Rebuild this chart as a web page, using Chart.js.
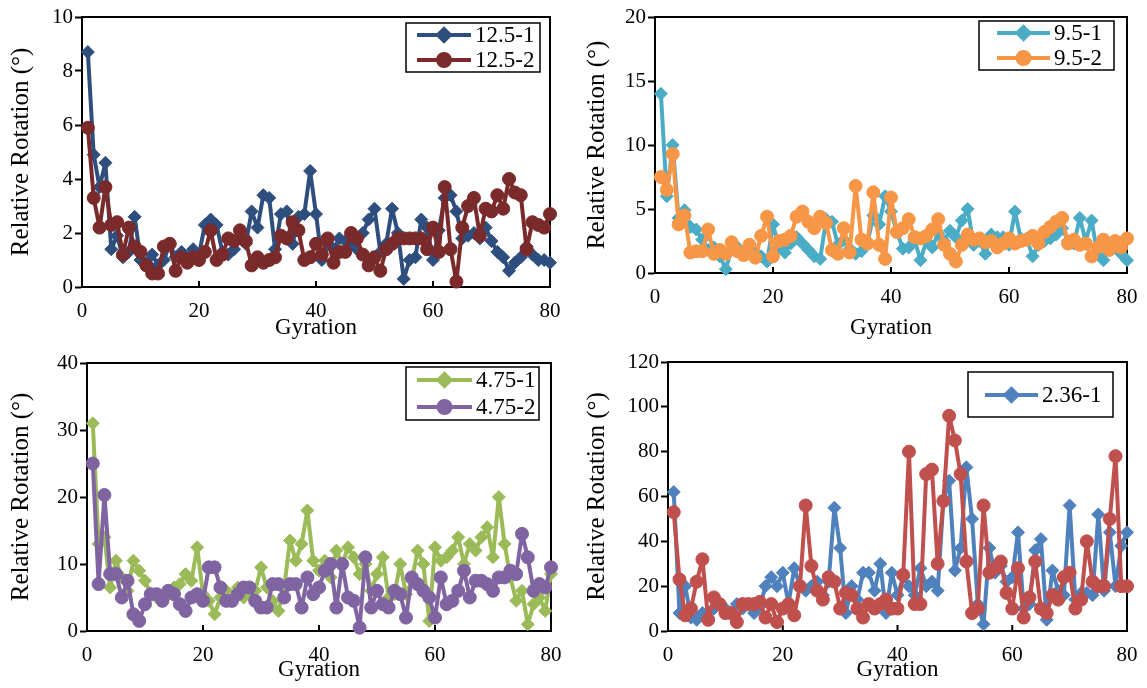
<!DOCTYPE html>
<html>
<head>
<meta charset="utf-8">
<script src="https://cdn.jsdelivr.net/npm/chart.js@4.4.0/dist/chart.umd.min.js"></script>
<style>
  body { margin: 0; background: #fff; }
  .panel { position: absolute; height: 344px; }
</style>
</head>
<body>
<div class="panel" style="left:0;top:0;width:573px"><canvas id="c1"></canvas></div>
<div class="panel" style="left:573px;top:0;width:574px"><canvas id="c2"></canvas></div>
<div class="panel" style="left:0;top:344px;width:573px"><canvas id="c3"></canvas></div>
<div class="panel" style="left:573px;top:344px;width:574px"><canvas id="c4"></canvas></div>
<script>
// gyration number (x)
const gyration = [1,2,3,4,5,6,7,8,9,10,11,12,13,14,15,16,17,18,19,20,
  21,22,23,24,25,26,27,28,29,30,31,32,33,34,35,36,37,38,39,40,
  41,42,43,44,45,46,47,48,49,50,51,52,53,54,55,56,57,58,59,60,
  61,62,63,64,65,66,67,68,69,70,71,72,73,74,75,76,77,78,79,80];
const xTicks = [0, 20, 40, 60, 80];

// relative rotation (deg)
const s12_5_1 = [8.7,4.9,3.7,4.6,1.4,1.9,1.1,1.3,2.6,1.0,0.9,1.2,0.8,1.0,1.6,1.1,1.3,1.1,1.4,1.2,
  2.3,2.5,2.3,1.3,1.2,1.4,1.8,1.6,2.8,2.2,3.4,3.3,1.4,2.7,2.8,1.6,2.6,2.7,4.3,2.7,
  1.0,1.6,1.4,1.8,1.7,1.6,1.4,2.0,2.5,2.9,1.3,1.6,2.9,2.0,0.3,1.0,1.1,2.5,2.2,1.0,
  2.1,3.3,3.4,2.8,1.8,1.9,2.0,1.8,2.2,1.7,1.3,1.1,0.6,0.9,1.1,1.5,1.2,1.0,1.0,0.9];
const s12_5_2 = [5.9,3.3,2.2,3.7,2.3,2.4,1.2,2.2,1.5,1.3,0.8,0.5,0.5,1.5,1.6,0.6,1.1,0.9,1.1,1.0,
  1.3,2.1,1.0,1.2,1.8,1.7,2.1,1.7,0.8,1.1,0.9,1.0,1.1,1.9,1.8,2.4,2.1,1.0,1.1,1.6,
  1.2,1.8,0.9,1.3,1.3,2.0,1.8,1.2,0.8,1.1,0.6,1.4,1.6,1.8,1.8,1.8,1.8,1.8,1.4,2.2,
  1.3,3.7,1.4,0.2,2.2,3.0,3.3,1.9,2.9,2.8,3.4,2.9,4.0,3.5,3.4,1.4,2.4,2.3,2.2,2.7];

const s9_5_1 = [14.0,6.0,10.0,4.3,4.9,3.6,3.4,2.6,1.8,2.0,1.3,0.3,1.9,2.0,1.5,1.9,1.6,1.3,0.9,3.8,
  2.0,1.6,2.3,2.8,2.3,1.8,1.3,1.1,4.2,4.0,2.2,2.6,1.9,1.5,1.7,2.3,4.5,3.8,6.0,4.8,
  3.2,1.9,2.0,2.6,1.0,2.5,2.0,3.1,2.5,3.3,2.8,4.1,5.0,2.2,2.5,1.5,3.0,2.8,2.8,2.2,
  4.8,2.7,2.7,1.3,2.2,2.5,2.7,3.0,3.5,2.5,2.3,4.3,2.5,4.1,1.5,1.0,2.0,2.5,1.5,1.0];
const s9_5_2 = [7.5,6.5,9.3,3.8,4.5,1.6,1.7,1.7,3.4,1.5,1.8,1.5,2.4,1.7,1.4,2.2,1.2,2.9,4.4,1.3,
  2.5,2.6,2.9,4.4,4.8,4.0,3.5,4.4,3.9,1.8,1.5,3.5,1.6,6.8,2.6,2.3,6.3,2.2,1.1,5.9,
  3.2,3.5,4.2,2.8,2.7,2.9,3.4,4.2,2.2,1.5,0.9,2.2,3.0,2.6,2.7,2.4,2.5,2.0,2.3,2.7,
  2.3,2.5,2.6,2.9,2.3,3.2,3.6,4.0,4.3,2.3,2.6,2.2,2.3,1.3,2.0,2.6,1.8,2.5,2.0,2.7];

const s4_75_1 = [31,13,14,6.5,10.5,8,6,10.5,9,7.5,5.5,5,4.5,5.5,6.5,7,8.5,7.5,12.5,5.5,
  4.5,2.5,5,6,4.5,6.5,5,5.5,6,9.5,6.5,4.5,3,6.5,13.5,10.5,13,18,10.5,9,
  10.5,8,12,10,12.5,11,8.5,10,6,8.5,11,5,5.5,10,5.5,7.5,12,10,1.5,12.5,
  10.5,11,12,14,10,13,12,14,15.5,11,20,13,8,4.5,6,1,4,5,3,8.5];
const s4_75_2 = [25,7,20.3,8.5,8.5,5,7.5,2.5,1.5,4,5.5,5.5,4.5,6,5.5,4,3,5,5.5,4.5,
  9.5,9.5,6.5,4.5,4.5,5.5,6.5,6.5,4.5,3.5,3.5,7,7,5,7,7,3.5,8,5.5,6.5,
  9,10,3.5,10,5,4.5,0.5,11,3.5,6,4,3.5,6,5.5,2,8,7,6,5,2,
  8,4,4.5,6,9,5,7.5,7.5,7,6,8,8,9,8.5,14.5,11,6,7,6.5,9.5];

const s2_36_1 = [62,8,20,6,5,8,6,10,12,10,8,12,10,12,8,11,20,24,20,26,
  12,28,20,18,20,22,16,22,55,37,8,20,14,26,26,18,30,8,26,16,
  24,20,16,28,20,22,18,58,67,27,37,73,50,12,3,37,26,29,22,24,
  44,10,12,36,41,5,27,18,16,56,14,17,17,16,52,18,44,20,38,44];
const s2_36_2 = [53,23,7,10,22,32,5,15,12,8,8,4,12,12,12,13,6,12,4,10,
  12,7,20,56,29,18,14,24,22,10,17,16,10,6,12,10,12,14,10,10,
  25,80,12,12,70,72,30,58,96,85,70,31,8,10,56,26,28,31,17,10,
  28,6,15,31,10,8,16,14,24,26,10,14,40,22,20,20,50,78,20,20];

const FONT = 'Liberation Serif, Times New Roman, serif';

const frame = {
  id: 'frame',
  beforeDatasetsDraw(chart) {
    const { ctx, chartArea: a, scales } = chart;
    ctx.save();
    ctx.strokeStyle = '#000';
    ctx.lineWidth = 2;
    ctx.strokeRect(a.left, a.top, a.right - a.left, a.bottom - a.top);
    // x ticks point inward
    scales.x.ticks.forEach(t => {
      const px = scales.x.getPixelForValue(t.value);
      ctx.beginPath();
      ctx.moveTo(px, a.bottom);
      ctx.lineTo(px, a.bottom - 6);
      ctx.stroke();
    });
    ctx.restore();
  },
  afterDraw(chart) {
    const L = chart.options.plugins.frame;
    if (!L) return;
    const ctx = chart.ctx;
    ctx.save();
    ctx.fillStyle = '#fff';
    ctx.fillRect(L.x, L.y, L.w, L.h);
    ctx.strokeStyle = '#000';
    ctx.lineWidth = 1.5;
    ctx.strokeRect(L.x, L.y, L.w, L.h);
    L.items.forEach((it, i) => {
      const ds = chart.data.datasets[it];
      const y = L.y + L.row0 + i * L.rowGap;
      ctx.strokeStyle = ds.borderColor;
      ctx.lineWidth = 4;
      ctx.beginPath();
      ctx.moveTo(L.x + L.l0, y);
      ctx.lineTo(L.x + L.l1, y);
      ctx.stroke();
      Chart.helpers.drawPoint(ctx, {
        pointStyle: ds.pointStyle, radius: ds.pointRadius - 0.5, borderWidth: 1, rotation: 0
      }, L.x + (L.l0 + L.l1) / 2, y);
      ctx.fillStyle = ds.borderColor;
      ctx.fill();
      ctx.fillStyle = '#000';
      ctx.font = '23px ' + FONT;
      ctx.textBaseline = 'middle';
      ctx.textAlign = 'left';
      ctx.fillText(ds.label, L.x + L.l1 + 4, y + 1);
    });
    ctx.restore();
  }
};

function series(label, data, color, style, order) {
  return {
    label: label,
    data: data,
    order: order,
    borderColor: color,
    backgroundColor: color,
    pointBackgroundColor: color,
    pointBorderColor: color,
    pointStyle: style,
    pointRadius: style === 'circle' ? 6.5 : 6.5,
    pointBorderWidth: 1,
    borderWidth: 4,
    borderJoinStyle: 'round',
    borderCapStyle: 'round',
    tension: 0,
    clip: false
  };
}

function makeChart(id, datasets, yMax, yStep, cfg) {
  new Chart(document.getElementById(id), {
    type: 'line',
    data: { labels: gyration, datasets: datasets },
    options: {
      responsive: true,
      maintainAspectRatio: false,
      animation: false,
      layout: { padding: { left: 0, top: cfg.top, right: cfg.right, bottom: 0 } },
      plugins: {
        legend: { display: false },
        tooltip: { enabled: false },
        frame: cfg.legend
      },
      scales: {
        x: {
          type: 'linear',
          min: 0, max: 80,
          afterBuildTicks: s => { s.ticks = xTicks.map(v => ({ value: v })); },
          afterFit: s => { s.height = cfg.xh; },
          grid: { display: false },
          border: { display: true, color: '#000', width: 2 },
          ticks: { color: '#000', padding: 4, font: { family: FONT, size: 21 } },
          title: {
            display: true, text: 'Gyration', color: '#000',
            font: { family: FONT, size: 23 }, padding: { top: 0, bottom: cfg.xtp }
          }
        },
        y: {
          min: 0, max: yMax,
          afterFit: s => { s.width = cfg.yw; },
          grid: { drawOnChartArea: false, tickLength: 7, color: '#000', tickWidth: 2 },
          border: { display: true, color: '#000', width: 2 },
          ticks: { stepSize: yStep, color: '#000', padding: 2, font: { family: FONT, size: 21 } },
          title: {
            display: true, text: 'Relative Rotation (°)', color: '#000',
            font: { family: FONT, size: 25 }, padding: { top: cfg.ytp, bottom: 0 }
          }
        }
      }
    },
    plugins: [frame]
  });
}

makeChart('c1', [
  series('12.5-1', s12_5_1, '#2E4E7E', 'rectRot', 2),
  series('12.5-2', s12_5_2, '#7A2A2A', 'circle', 1)
], 10, 2, { top: 17, right: 23, xh: 57, yw: 82, xtp: 2, ytp: 6,
  legend: { x: 406, y: 23, w: 134, h: 49, row0: 12, rowGap: 25, l0: 11, l1: 65, items: [0, 1] } });

makeChart('c2', [
  series('9.5-1', s9_5_1, '#4BACC6', 'rectRot', 2),
  series('9.5-2', s9_5_2, '#F79646', 'circle', 1)
], 20, 5, { top: 17, right: 20, xh: 71, yw: 82, xtp: 2, ytp: 9,
  legend: { x: 406, y: 21, w: 135, h: 49, row0: 12, rowGap: 25, l0: 18, l1: 71, items: [0, 1] } });

makeChart('c3', [
  series('4.75-1', s4_75_1, '#9BBB59', 'rectRot', 2),
  series('4.75-2', s4_75_2, '#8064A2', 'circle', 1)
], 40, 10, { top: 19, right: 22, xh: 57, yw: 87, xtp: 4, ytp: 6,
  legend: { x: 406, y: 23, w: 133, h: 53, row0: 13, rowGap: 27, l0: 11, l1: 66, items: [0, 1] } });

makeChart('c4', [
  series('2.36-1', s2_36_1, '#4F81BD', 'rectRot', 2),
  series('2.36-2', s2_36_2, '#C0504D', 'circle', 1)
], 120, 20, { top: 18, right: 20, xh: 57, yw: 95, xtp: 4, ytp: 9,
  legend: { x: 395, y: 28, w: 145, h: 45, row0: 23, rowGap: 25, l0: 17, l1: 70, items: [0] } });
</script>
</body>
</html>
